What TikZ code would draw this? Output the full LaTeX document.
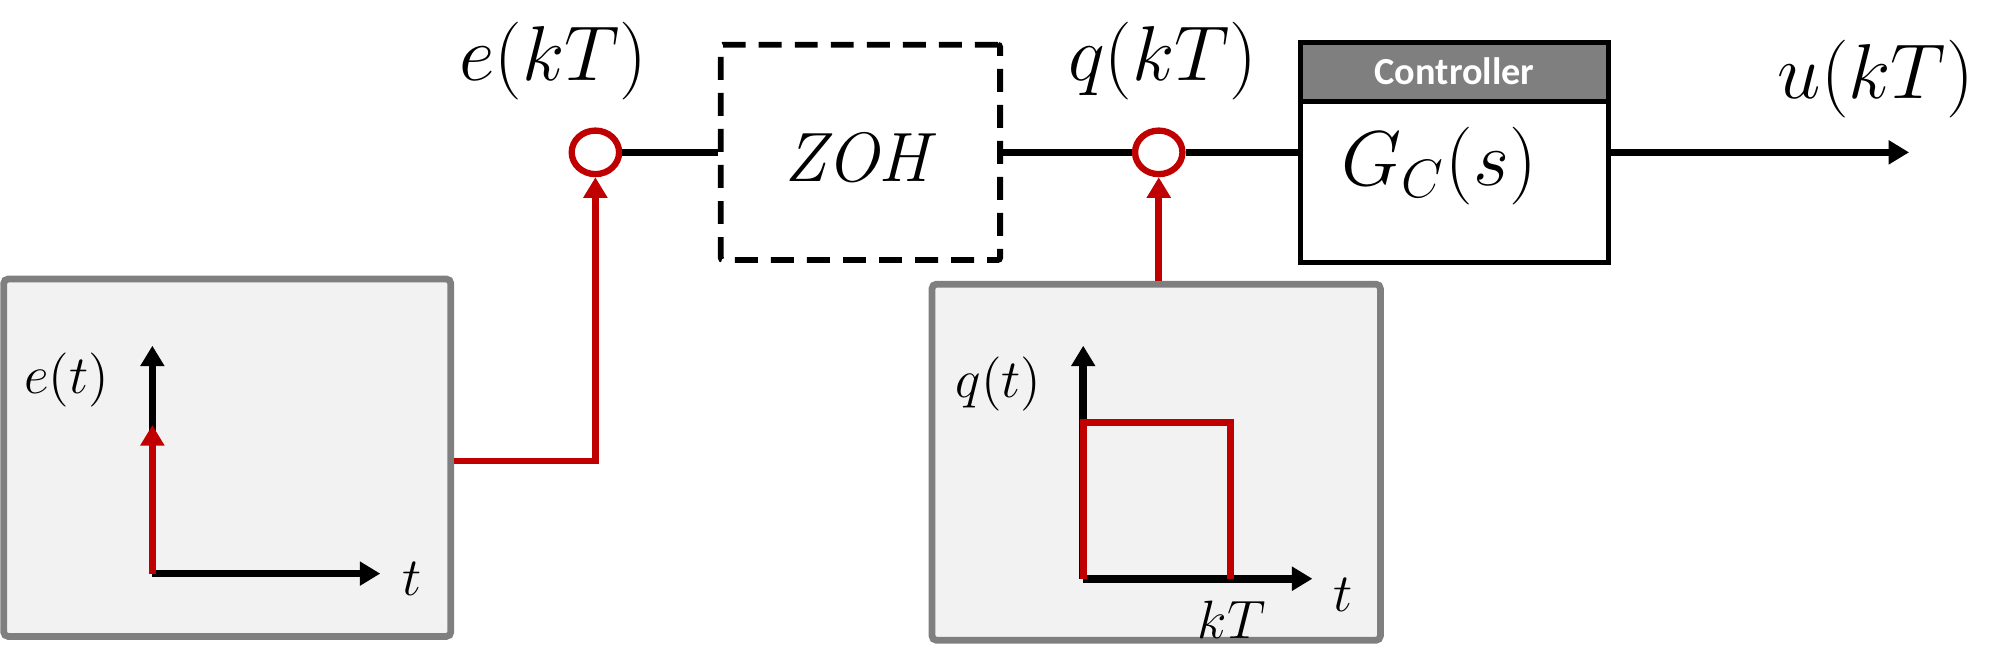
\documentclass[tikz,border=0pt]{standalone}
\usepackage{fontspec}
\newfontfamily\carlito{Carlito}
\usetikzlibrary{arrows.meta,shapes.geometric,calc}
\definecolor{myred}{HTML}{C00000}
\definecolor{bgray}{HTML}{7F7F7F}
\definecolor{pfill}{HTML}{F2F2F2}
\begin{document}
\begin{tikzpicture}[x=0.01cm,y=-0.01cm,
  wire/.style={line width=1.7pt},
  redwire/.style={line width=1.5pt, draw=myred},
  tip/.style={-{Triangle[length=0.16cm,width=0.18cm]}},
  sampler/.style={ellipse, draw=myred, line width=1.4pt, fill=white, minimum width=0.37cm, minimum height=0.34cm, inner sep=0pt},
  panel/.style={draw=bgray, fill=pfill, line width=1.5pt, rounded corners=1pt, minimum width=3.49cm, minimum height=2.79cm},
  lbl/.style={font=\fontsize{16}{19}\selectfont, inner sep=0pt},
  small/.style={font=\fontsize{12}{14}\selectfont, inner sep=0pt}]
\useasboundingbox (0,0) rectangle (1562,510);
% panels
\node[panel] (pe) at (177.5,357.5) {};
\node[panel, minimum width=3.50cm, minimum height=2.78cm] (pq) at (903,361) {};
% top row
\node[lbl] (ek) at (432,48) {$e(kT)$};
\node[sampler] (ec) at (465,119) {};
\node[draw, line width=1.3pt, dash pattern=on 5.1pt off 2.9pt, rounded corners=0.5pt, minimum width=2.18cm, minimum height=1.68cm] (zoh) at (672,119) {};
\node[lbl, font=\fontsize{15.5}{18}\selectfont] (zohl) at (672,123) {\textit{ZOH}};
\node[sampler] (qc) at (905,119) {};
\node[lbl] (qk) at (908,48) {$q(kT)$};
\node[draw, line width=1.1pt, fill=white, minimum width=2.40cm, minimum height=1.72cm] (ctrl) at (1136,119) {};
\node[draw, line width=1.1pt, fill=bgray, minimum width=2.40cm, minimum height=0.46cm, anchor=north, text=white, font=\carlito\bfseries\fontsize{8.5}{10}\selectfont] (hdr) at (ctrl.north) {Controller};
\node[lbl, font=\fontsize{17}{20}\selectfont] (gc) at (1124,130) {$G_C(s)$};
\node[lbl] (uk) at (1465,62) {$u(kT)$};
\coordinate (uend) at (1491,119);
% connectors
\draw[wire] (ec.east) -- (ec.east -| zoh.west);
\draw[wire] (zoh.east |- qc) -- (qc.west);
\draw[wire] (qc.east) -- (qc.east -| ctrl.west);
\draw[wire, tip] (ctrl.east |- uend) -- (uend);
\coordinate (ej) at (465,360);
\draw[redwire, tip] (pe.east |- ej) -- (ej) -- (ec.south);
\draw[redwire, tip] (pq.north -| qc) -- (qc.south);
% e panel contents
\coordinate (eo) at (119,448);
\coordinate (ey) at (119,270);
\coordinate (ex) at (297,448);
\coordinate (ei) at (119,332);
\draw[wire, tip] (eo) -- (ey);
\draw[wire, tip] (eo) -- (ex);
\draw[redwire, tip] (eo) -- (ei);
\node[small] (et) at (52,297) {$e(t)$};
\node[small] (etx) at (322,452) {$t$};
% q panel contents
\coordinate (qo) at (846,452);
\coordinate (qy) at (846,270);
\coordinate (qx) at (1025,452);
\coordinate (qa) at (846,330);
\coordinate (qb) at (961,330);
\coordinate (qe) at (961,452);
\draw[wire, tip] (qo) -- (qy);
\draw[wire, tip] (qo) -- (qx);
\draw[redwire] (qo) -- (qa) -- (qb) -- (qe);
\node[small] (qt) at (780,300) {$q(t)$};
\node[small] (qtx) at (1049,465) {$t$};
\node[small] (kt) at (962,484) {$kT$};
\end{tikzpicture}
\end{document}
